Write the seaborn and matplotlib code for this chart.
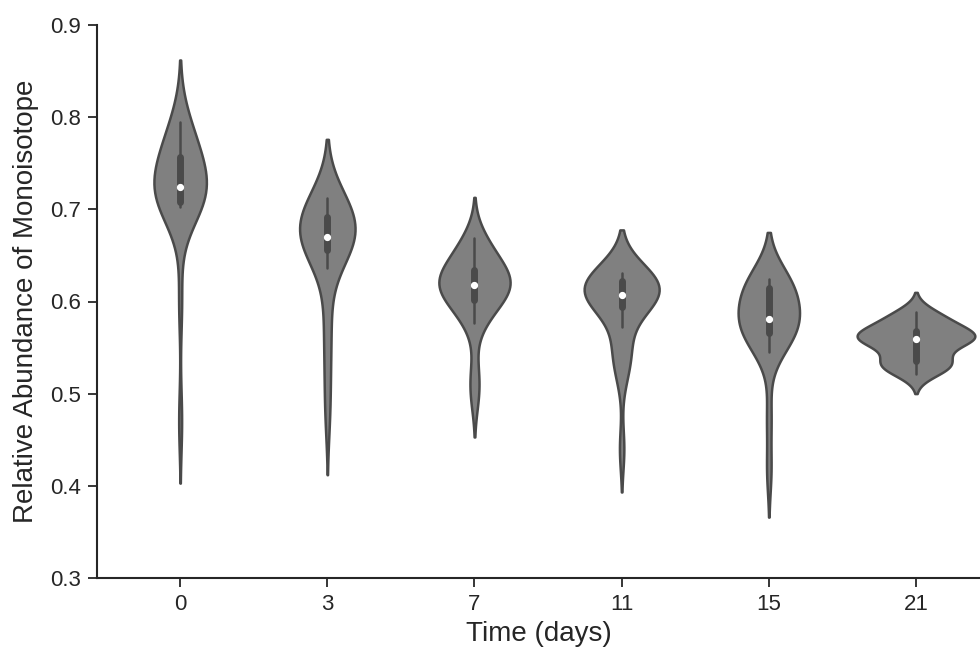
import pandas as pd
import matplotlib
matplotlib.use("Agg")
import matplotlib.pyplot as plt
import seaborn as sns

# relative abundance of the monoisotopic peak, per sampling day
days = ["0", "3", "7", "11", "15", "21"]

day0 = [0.470, 0.600, 0.702, 0.703, 0.705, 0.706, 0.707, 0.711, 0.714, 0.717,
        0.719, 0.721, 0.723, 0.725, 0.729, 0.734, 0.740, 0.746, 0.752, 0.759,
        0.764, 0.769, 0.775, 0.781, 0.788, 0.795]
day3 = [0.476, 0.520, 0.560, 0.590, 0.636, 0.650, 0.658, 0.661, 0.664, 0.666,
        0.668, 0.669, 0.671, 0.674, 0.678, 0.682, 0.686, 0.691, 0.695, 0.700,
        0.705, 0.708, 0.710, 0.712]
day7 = [0.497, 0.522, 0.577, 0.585, 0.592, 0.600, 0.608, 0.611, 0.613, 0.615,
        0.617, 0.619, 0.621, 0.624, 0.627, 0.631, 0.635, 0.641, 0.648, 0.655,
        0.662, 0.669]
day11 = [0.440, 0.520, 0.536, 0.545, 0.550, 0.572, 0.594, 0.597, 0.599, 0.601,
         0.603, 0.605, 0.607, 0.609, 0.611, 0.613, 0.616, 0.619, 0.622, 0.624,
         0.626, 0.627, 0.628, 0.630, 0.631]
day15 = [0.417, 0.475, 0.545, 0.552, 0.558, 0.563, 0.567, 0.570, 0.573, 0.576,
         0.578, 0.580, 0.582, 0.587, 0.593, 0.599, 0.605, 0.614, 0.618, 0.620,
         0.621, 0.622, 0.623, 0.624]
day21 = [0.521, 0.525, 0.529, 0.532, 0.534, 0.535, 0.536, 0.547, 0.553, 0.556,
         0.558, 0.559, 0.560, 0.561, 0.562, 0.564, 0.565, 0.567, 0.571, 0.574,
         0.578, 0.582, 0.586, 0.589]

values = [day0, day3, day7, day11, day15, day21]
df = pd.DataFrame({
    "day": [d for d, v in zip(days, values) for _ in v],
    "abundance": [x for v in values for x in v],
})

sns.set_style("ticks")
plt.rcParams["font.family"] = ["Liberation Sans", "DejaVu Sans"]

fig = plt.figure(figsize=(9.8, 6.6), dpi=100)
ax = fig.add_axes([97 / 980, 82 / 660, 883 / 980, 553 / 660])

sns.violinplot(data=df, x="day", y="abundance", order=days, color="#808080",
               linecolor="#4a4a4a", linewidth=1.8, inner="box", saturation=1,
               inner_kws={"box_width": 5, "whis_width": 1.8, "marker": "o",
                          "markersize": 4.2},
               ax=ax)

ax.set_xlim(-0.565, 5.435)
ax.set_ylim(0.3, 0.9)
ax.set_yticks([0.3, 0.4, 0.5, 0.6, 0.7, 0.8, 0.9])
ax.set_xlabel("Time (days)", fontsize=20, color="#262626", labelpad=4)
ax.set_ylabel("Relative Abundance of Monoisotope", fontsize=20, color="#262626",
              labelpad=8)
ax.tick_params(labelsize=16, length=6.5, width=1.3, pad=5, colors="#262626")
for s in ["left", "bottom"]:
    ax.spines[s].set_linewidth(1.5)
    ax.spines[s].set_color("#262626")
sns.despine(ax=ax)

fig.savefig("out.png", dpi=100)
